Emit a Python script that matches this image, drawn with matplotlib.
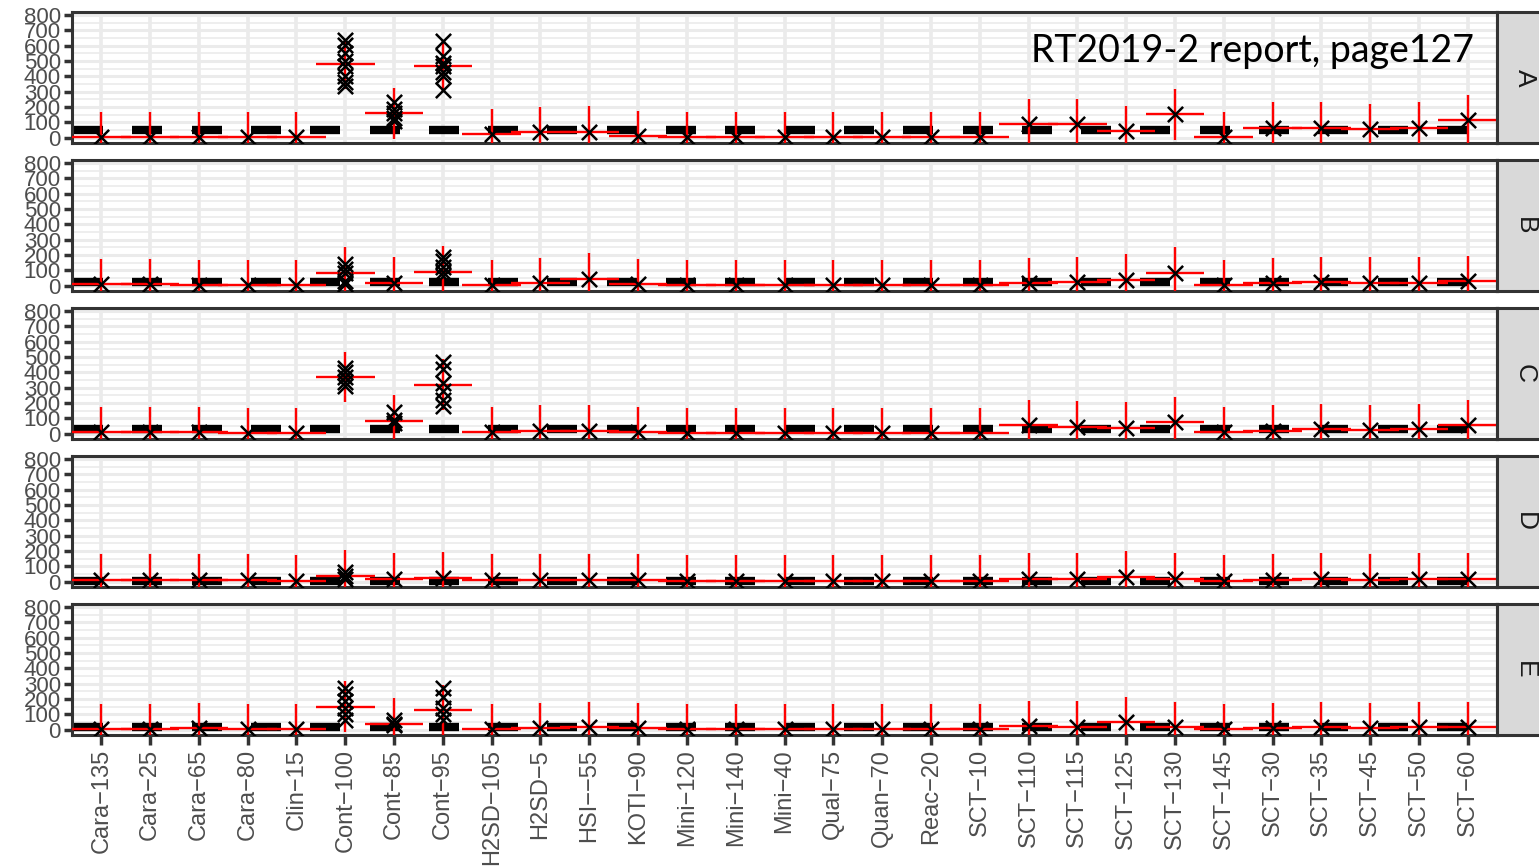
import numpy as np
import matplotlib.pyplot as plt
from matplotlib.ticker import MultipleLocator

plt.rcParams['font.family'] = ['Liberation Sans', 'DejaVu Sans']

# Categories on the x axis (same for every panel)
categories = ['Cara−135', 'Cara−25', 'Cara−65', 'Cara−80', 'Clin−15', 'Cont−100', 'Cont−85', 'Cont−95',
              'H2SD−105', 'H2SD−5', 'HSI−−55', 'KOTI−90', 'Mini−120', 'Mini−140', 'Mini−40', 'Qual−75',
              'Quan−70', 'Reac−20', 'SCT−10', 'SCT−110', 'SCT−115', 'SCT−125', 'SCT−130', 'SCT−145',
              'SCT−30', 'SCT−35', 'SCT−45', 'SCT−50', 'SCT−60']
panels = ['A', 'B', 'C', 'D', 'E']

# red horizontal = mean per category
means_A = [5, 5, 5, 5, 5, 480, 158, 465, 25, 35, 40, 12, 5, 5, 5, 5, 5, 5, 5,
           90, 90, 42, 152, 5, 65, 65, 55, 65, 112]
means_B = [8, 8, 5, 5, 5, 85, 20, 92, 5, 15, 45, 10, 5, 5, 5, 5, 5, 5, 5,
           15, 25, 40, 85, 5, 15, 25, 20, 20, 30]
means_C = [8, 8, 8, 5, 5, 370, 85, 320, 10, 20, 20, 10, 5, 5, 5, 5, 5, 5, 5,
           55, 45, 40, 75, 10, 20, 30, 25, 30, 55]
means_D = [8, 8, 10, 8, 5, 35, 15, 25, 8, 10, 12, 8, 5, 5, 5, 5, 5, 5, 5,
           20, 15, 30, 20, 5, 10, 15, 12, 15, 15]
means_E = [5, 5, 8, 5, 5, 150, 40, 125, 5, 10, 15, 10, 5, 5, 5, 5, 5, 5, 5,
           25, 20, 50, 15, 5, 10, 15, 12, 15, 15]

# half length of the red vertical bar per panel
half_err = [165, 165, 165, 170, 165]

# individual results (x markers) where several are visible
points_A = {'Cont−100': [640, 605, 555, 500, 470, 400, 360, 335],
            'Cont−85': [230, 190, 160, 130, 110],
            'Cont−95': [630, 530, 490, 465, 430, 405, 310]}
points_B = {'Cont−100': [140, 110, 80, 30, 10],
            'Cont−95': [190, 160, 120, 90, 60]}
points_C = {'Cont−100': [430, 400, 370, 340, 310],
            'Cont−85': [140, 90, 70],
            'Cont−95': [470, 420, 330, 280, 220, 180]}
points_D = {'Cont−100': [60, 40, 20]}
points_E = {'Cont−100': [270, 230, 190, 140, 100, 60],
            'Cont−85': [60, 40, 30],
            'Cont−95': [270, 210, 140, 100, 60]}

# black reference bars (24 of them, on their own scale)
n_ref = 24
ref_level = [47, 22, 28, 3, 20]

means = [means_A, means_B, means_C, means_D, means_E]
points = [points_A, points_B, points_C, points_D, points_E]

W, H = 1539, 866
fig = plt.figure(figsize=(W / 100, H / 100), dpi=100)

left, right = 72, 1497
top0, ph, gap = 12, 131, 17
x = np.arange(len(categories))

for p, name in enumerate(panels):
    top = top0 + p * (ph + gap)
    ax = fig.add_axes([left / W, 1 - (top + ph) / H, (right - left) / W, ph / H])
    ax.set_facecolor('white')
    ax.set_xlim(-0.6, len(categories) - 0.4)
    ax.set_ylim(-35, 820)

    ax.yaxis.set_major_locator(MultipleLocator(100))
    ax.yaxis.set_minor_locator(MultipleLocator(50))
    ax.set_xticks(x)
    ax.grid(which='major', axis='y', color='#EBEBEB', lw=2.2, zorder=0)
    ax.grid(which='minor', axis='y', color='#EBEBEB', lw=1.2, zorder=0)
    ax.grid(which='major', axis='x', color='#EBEBEB', lw=2.6, zorder=0)
    ax.set_axisbelow(True)

    # black bars sit on a separate 24-slot scale
    ax2 = ax.twiny()
    ax2.set_xlim((-0.6 + 0.27) / 1.215, (len(categories) - 0.4 + 0.27) / 1.215)
    ax2.axis('off')
    k = np.arange(n_ref)
    ax.hlines([ref_level[p]] * n_ref, k - 0.253, k + 0.253, colors='black', lw=6,
              transform=ax2.transData, zorder=2)

    m = np.array(means[p])
    ax.hlines(m, x - 0.6, x + 0.6, colors='red', lw=1.7, zorder=3)
    ax.vlines(x, m - half_err[p], m + half_err[p], colors='red', lw=1.7, zorder=3)

    px, py = [], []
    for i, c in enumerate(categories):
        vals = points[p].get(c, [m[i]])
        px += [i] * len(vals)
        py += vals
    ax.scatter(px, py, marker='x', s=120, c='black', linewidths=1.8, zorder=4)

    for s in ax.spines.values():
        s.set_color('#333333')
        s.set_linewidth(2.2)
    ax.tick_params(axis='y', which='major', length=6, width=2.5, color='#333333',
                   labelsize=16, labelcolor='#4D4D4D', pad=2)
    ax.tick_params(axis='y', which='minor', length=0)
    if p == len(panels) - 1:
        ax.set_xticklabels(categories, rotation=90, fontsize=17, color='#4D4D4D')
        ax.tick_params(axis='x', length=7, width=2.5, color='#333333', pad=3)
    else:
        ax.tick_params(axis='x', length=0, labelbottom=False)

    # facet strip on the right
    sax = fig.add_axes([right / W, 1 - (top + ph) / H, 50 / W, ph / H])
    sax.set_facecolor('#D9D9D9')
    sax.set_xticks([])
    sax.set_yticks([])
    for s in sax.spines.values():
        s.set_color('#333333')
        s.set_linewidth(2.2)
    sax.text(0.55, 0.5, name, rotation=-90, ha='center', va='center',
             fontsize=19, color='#1A1A1A', transform=sax.transAxes)

    if p == 0:
        ax.text(0.984, 0.70, 'RT2019-2 report, page127', ha='right', va='center',
                fontsize=27, family=['Lato', 'DejaVu Sans'], color='black',
                transform=ax.transAxes, zorder=5)

fig.savefig('out.png', dpi=100)
